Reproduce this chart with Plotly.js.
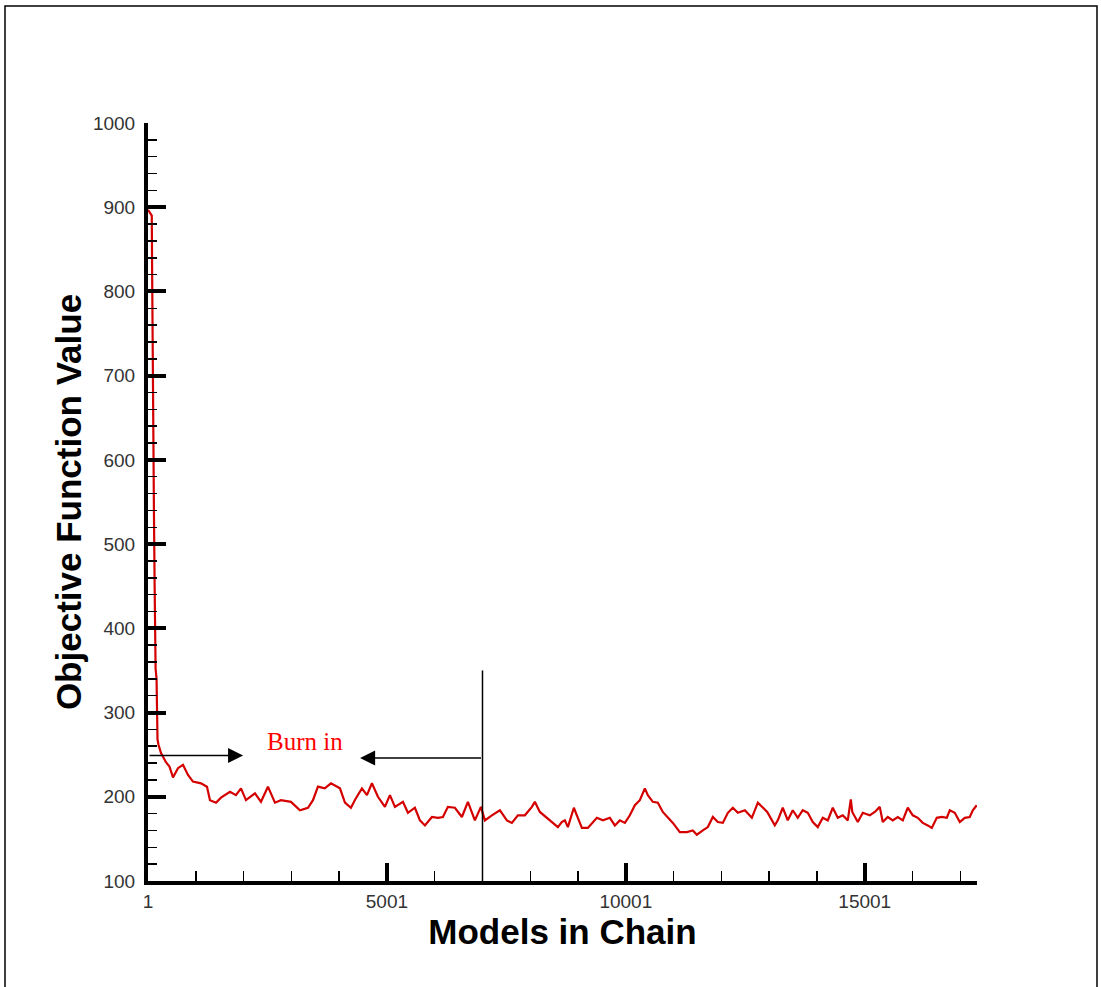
<!DOCTYPE html>
<html>
<head>
<meta charset="utf-8">
<script src="https://cdn.plot.ly/plotly-3.0.1.min.js"></script>
<style>html,body{margin:0;padding:0;background:#fff;}#chart{width:1101px;height:987px;}</style>
</head>
<body>
<div id="chart"></div>
<script>
// ---- data ----
const models = [1,80,88,100,110,125,140,150,160,180,190,200,220,273,377,450,524,628,733,838,942,1110,1235,1298,1424,1528,1717,1842,1947,2051,2240,2365,2511,2658,2783,2993,3181,3349,3453,3558,3700,3830,4018,4123,4248,4340,4478,4583,4687,4813,4959,5064,5169,5336,5441,5587,5692,5797,5943,6068,6173,6277,6424,6570,6696,6842,6968,7051,7198,7365,7511,7616,7742,7888,8035,8097,8202,8349,8453,8579,8660,8725,8788,8913,8997,9081,9206,9395,9520,9667,9771,9876,9981,10085,10190,10294,10399,10461,10566,10671,10775,10880,10985,11131,11278,11403,11487,11612,11717,11822,11926,12031,12136,12240,12345,12492,12638,12764,12868,12960,13118,13181,13285,13390,13495,13599,13704,13809,13913,14018,14123,14227,14332,14437,14541,14646,14709,14740,14855,14960,15106,15211,15315,15378,15483,15587,15692,15797,15901,16006,16111,16215,16320,16404,16508,16613,16718,16780,16885,16990,17094,17199,17262,17345];
const objective = [897,890,820,700,560,540,450,400,352,340,300,268,262,252,241,236,223,234,238,226,218,216,212,196,193,199,206,202,210,196,204,194,212,193,196,194,184,187,196,212,210,216,210,193,187,197,210,202,216,200,188,202,188,194,181,187,172,166,176,175,176,188,187,176,194,172,188,172,178,184,172,169,178,178,188,194,182,175,169,164,170,172,164,187,175,163,163,175,172,175,166,172,169,178,190,196,210,202,194,193,182,176,169,158,158,160,155,160,164,176,170,169,181,187,181,184,175,193,187,182,166,172,187,172,184,175,184,181,170,164,175,172,187,175,178,172,197,182,170,181,178,182,188,170,176,172,176,172,187,178,175,169,166,163,175,176,175,184,181,170,175,176,184,190];
const xTickVals = [1, 5001, 10001, 15001];
const xTickText = ['1', '5001', '10001', '15001'];
const burnInEnd = 7001;      // vertical marker
const burnInTop = 350;
const arrowLeft = {tail: 1, tip: 1990, level: 249};
const arrowRight = {tail: 7001, tip: 4440, level: 246};
const burnLabel = {text: 'Burn in', x: 3290, y: 266};

const sans = 'Liberation Sans, Arial, sans-serif';
const trace = {
  x: models, y: objective, type: 'scatter', mode: 'lines',
  line: {color: '#d40000', width: 2.2}, hoverinfo: 'skip'
};

const px2paperX = p => (p - 148) / 829;
const px2paperY = p => (881 - p) / 758;

const layout = {
  width: 1101, height: 987, autosize: false,
  margin: {l: 148, r: 124, t: 123, b: 106, pad: 0},
  paper_bgcolor: '#fff', plot_bgcolor: '#fff',
  showlegend: false,
  xaxis: {
    range: [1, 17350], showgrid: false, zeroline: false,
    showline: true, linecolor: '#000', linewidth: 4,
    ticks: 'inside', ticklen: 18, tickwidth: 4, tickcolor: '#000',
    tickmode: 'array', tickvals: xTickVals, ticktext: xTickText,
    minor: {tickmode: 'linear', tick0: 1, dtick: 1000, ticks: 'inside', ticklen: 10, tickwidth: 1.5, tickcolor: '#000'},
    tickfont: {family: sans, size: 19, color: '#333'},
    title: {text: 'Models in Chain', font: {family: sans, size: 35, color: '#000', weight: 700}, standoff: 10}
  },
  yaxis: {
    range: [100, 1000], showgrid: false, zeroline: false,
    showline: true, linecolor: '#000', linewidth: 4,
    ticks: 'inside', ticklen: 18, tickwidth: 4, tickcolor: '#000',
    tick0: 0, dtick: 100, ticklabelstandoff: 5,
    minor: {tick0: 0, dtick: 20, ticks: 'inside', ticklen: 9, tickwidth: 1.5, tickcolor: '#000'},
    tickfont: {family: sans, size: 19, color: '#333'},
    title: {text: 'Objective Function Value', font: {family: sans, size: 35, color: '#000', weight: 700}, standoff: 2}
  },
  shapes: [
    {type: 'line', xref: 'x', yref: 'y', x0: burnInEnd, x1: burnInEnd, y0: 100, y1: burnInTop,
     line: {color: '#000', width: 1.5}},
    {type: 'rect', xref: 'paper', yref: 'paper', x0: px2paperX(5), x1: px2paperX(1097), y0: px2paperY(995), y1: px2paperY(6),
     line: {color: '#000', width: 1.5}, fillcolor: 'rgba(0,0,0,0)', layer: 'below'}
  ],
  annotations: [
    {x: arrowLeft.tip, y: arrowLeft.level, ax: arrowLeft.tail, ay: arrowLeft.level, xref: 'x', yref: 'y', axref: 'x', ayref: 'y',
     text: '', showarrow: true, arrowhead: 2, arrowsize: 2, arrowwidth: 1.5, arrowcolor: '#000', standoff: 0, startstandoff: 0},
    {x: arrowRight.tip, y: arrowRight.level, ax: arrowRight.tail, ay: arrowRight.level, xref: 'x', yref: 'y', axref: 'x', ayref: 'y',
     text: '', showarrow: true, arrowhead: 2, arrowsize: 2, arrowwidth: 1.5, arrowcolor: '#000', standoff: 0, startstandoff: 0},
    {x: burnLabel.x, y: burnLabel.y, xref: 'x', yref: 'y', text: burnLabel.text, showarrow: false,
     font: {family: 'Liberation Serif, Times New Roman, serif', size: 25, color: '#ff0000'}}
  ]
};

Plotly.newPlot('chart', [trace], layout, {displayModeBar: false, staticPlot: true});
</script>
</body>
</html>
